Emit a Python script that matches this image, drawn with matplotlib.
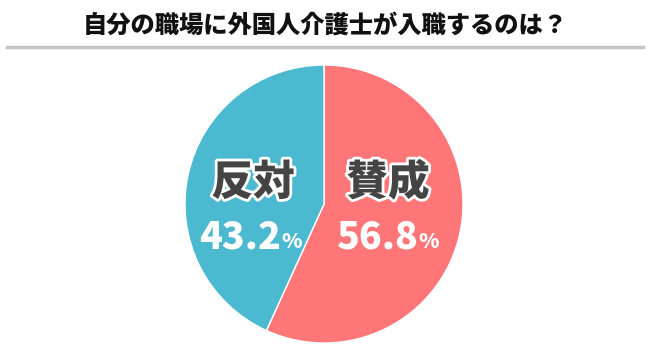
import matplotlib
matplotlib.use("Agg")
import matplotlib.pyplot as plt
import matplotlib.patheffects as pe

plt.rcParams['font.family'] = ['Noto Sans CJK JP', 'DejaVu Sans']

title = '自分の職場に外国人介護士が入職するのは？'
labels = ['賛成', '反対']
values = [56.8, 43.2]
colors = ['#FF7679', '#4BB9CF']

fig = plt.figure(figsize=(6.5, 3.64), dpi=100)
fig.patch.set_facecolor('white')

# title and the gray rule under it
fig.text(0.5, 1 - 25 / 364, title, ha='center', va='center',
         fontsize=17.5, fontweight='black', color='#111111')
fig.add_artist(plt.Line2D([7 / 650, 643 / 650], [1 - 47 / 364, 1 - 47 / 364],
                          color='#C4C4C4', lw=2.5))

# pie: center (324, 204) px, radius 139 px
cx, cy, r = 324, 364 - 204, 139
ax = fig.add_axes([(cx - r) / 650, (cy - r) / 364, 2 * r / 650, 2 * r / 364])
ax.pie(values, colors=colors, startangle=90, counterclock=False, radius=1,
       wedgeprops=dict(edgecolor='white', linewidth=1))
ax.set_xlim(-1, 1)
ax.set_ylim(-1, 1)
ax.set_aspect('equal')
ax.axis('off')

# label positions (in pie radius units)
name_pos = [(0.46, 0.15), (-0.51, 0.15)]
split_x = [0.676, -0.31]
num_y = -0.317

outline = [pe.withStroke(linewidth=4, foreground='white')]
for lab, val, (nx, ny), sx in zip(labels, values, name_pos, split_x):
    ax.text(nx, ny, lab, ha='center', va='center', fontsize=30,
            fontweight='black', color='#444444', path_effects=outline)
    ax.text(sx, num_y, f'{val:.1f}', ha='right', va='baseline', fontsize=27,
            fontweight='black', color='white')
    ax.text(sx + 0.005, num_y, '%', ha='left', va='baseline', fontsize=15,
            fontweight='black', color='white')

fig.savefig('out.png', dpi=100, facecolor='white')
